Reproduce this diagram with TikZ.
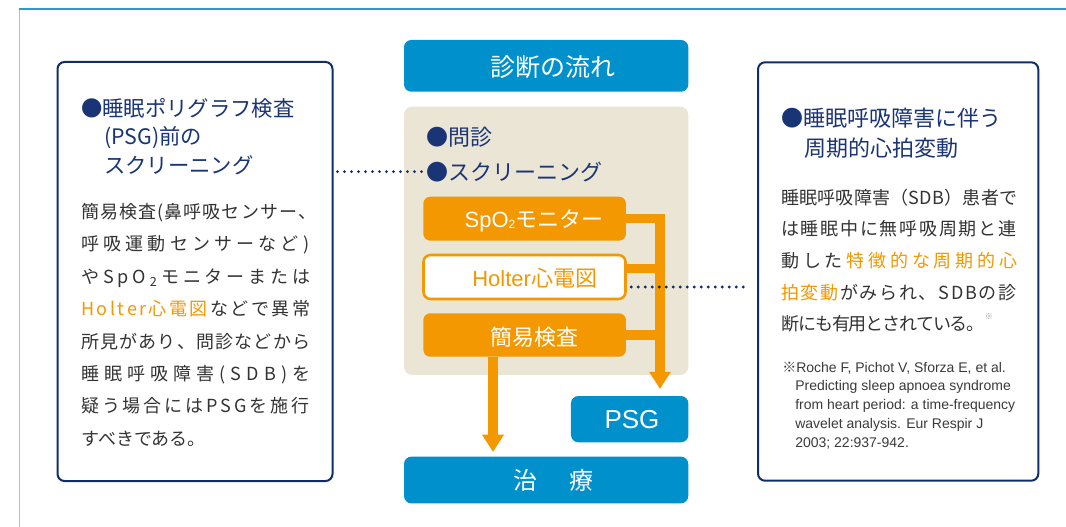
\documentclass[tikz,border=0pt]{standalone}
\usepackage{fontspec}
\setmainfont{Noto Sans CJK JP}
\newfontfamily\lat{Liberation Sans}
\usetikzlibrary{arrows.meta}
\definecolor{navy}{HTML}{0F2D6B}
\definecolor{navyt}{HTML}{1A3575}
\definecolor{cblue}{HTML}{0090CC}
\definecolor{corange}{HTML}{F39800}
\definecolor{beige}{HTML}{EBE5D5}
\definecolor{bodyg}{HTML}{333333}
\definecolor{noteg}{HTML}{3A3A3A}
\definecolor{frametop}{HTML}{2A9AD0}
\definecolor{frameleft}{HTML}{8ACDEB}
\ExplSyntaxOn
\cs_new_protected:Npn \__jl_map:n #1 { \tl_map_inline:nn {#1} { \hfil ##1 } }
\NewDocumentCommand \jl { m m m m }
  { \makebox [#1] [s] { \skip_horizontal:n { 0pt plus -1fil } \__jl_map:n {#2} { \color{corange} \__jl_map:n {#3} } \__jl_map:n {#4} } }
\ExplSyntaxOff
\begin{document}
\begin{tikzpicture}[x=0.75pt,y=-0.75pt,
  sidebox/.style={draw=navy, line width=1.5pt, rounded corners=5.25pt, fill=white, inner sep=0pt},
  bluebox/.style={fill=cblue, rounded corners=5.5pt, inner sep=0pt},
  obox/.style={fill=corange, rounded corners=5.25pt, inner sep=0pt, minimum width=152pt, minimum height=33pt},
  hbox/.style={fill=white, draw=corange, line width=1.9pt, rounded corners=5.25pt, inner sep=0pt, minimum width=151.5pt, minimum height=33pt},
  ttl/.style={font=\fontsize{16pt}{19pt}\selectfont, text=navyt, anchor=base west, inner sep=0pt},
  rttl/.style={font=\fontsize{16.5pt}{19pt}\selectfont, text=navyt, anchor=base west, inner sep=0pt},
  body/.style={font=\fontsize{13.5pt}{16pt}\selectfont, text=bodyg, anchor=base west, inner sep=0pt},
  note/.style={font=\fontsize{10.5pt}{12pt}\selectfont\lat, text=noteg, anchor=base west, inner sep=0pt},
  ctr/.style={font=\fontsize{16.5pt}{19pt}\selectfont, text=navyt, anchor=base west, inner sep=0pt},
  btxt/.style={font=\fontsize{16.5pt}{19pt}\selectfont, anchor=base, inner sep=0pt},
  oline/.style={draw=corange, line width=7.1pt},
  oarrow/.style={oline, -{Triangle[width=16.5pt, length=12.75pt, line width=0pt]}},
  dotl/.style={draw=navy, line width=2.4pt, line cap=round, dash pattern=on 0pt off 5.25pt}
]
\useasboundingbox (0,0) rectangle (1066,527);
% outer frame
\draw[frameleft, line width=1.1pt] (19.5,527) -- (19.5,9.5);
\draw[frametop, line width=1.5pt] (18.8,9.5) -- (1066,9.5);

% side boxes
\node[sidebox, minimum width=206.25pt, minimum height=314.25pt] (lbox) at (195,271.5) {};
\node[sidebox, minimum width=210.2pt, minimum height=313.8pt] (rbox) at (898.15,271.5) {};

% centre column
\node[bluebox, minimum width=213.2pt, minimum height=38.8pt] (title) at (546.15,65.85) {};
\node[btxt, text=white, font=\fontsize{18.75pt}{21pt}\selectfont] (titletxt) at (553,76.2) {診断の流れ};
\node[fill=beige, rounded corners=6pt, inner sep=0pt, minimum width=213.2pt, minimum height=201.2pt] (panel) at (546.15,240.85) {};
\node[ctr] (mon) at (426,145.7) {●問診};
\node[ctr] (scr) at (426,180.1) {●スクリーニング};
\node[obox] (spo2) at (524.65,218.7) {};
\node[hbox] (holter) at (524.5,277) {};
\node[obox, minimum height=32.6pt] (kan) at (524.65,335) {};
\node[bluebox, minimum width=88pt, minimum height=34.7pt] (psg) at (629.65,419.15) {};
\node[bluebox, minimum width=213.2pt, minimum height=35pt] (tr) at (546.15,480) {};

% orange connectors
\coordinate (trunk) at (660,218.7);
\coordinate (drop) at (493,357);
\coordinate (hj) at ([yshift=6.4pt]holter.east);
\draw[oline] (hj) -- (hj -| trunk);
\draw[oline] (kan.east) -- (kan.east -| trunk);
\draw[oarrow, line join=miter, shorten >=5.25pt] (spo2.east) -| (psg.north -| trunk);
\draw[oarrow, shorten >=3.5pt] (kan.south -| drop) -- (tr.north -| drop);

% box texts
\node[btxt, text=white] (spo2t) at (534,227.7) {{\lat SpO\raisebox{-0.05em}{\fontsize{9pt}{9pt}\selectfont 2}}モニター};
\node[btxt, text=corange] (holt) at (534.7,286.7) {{\lat Holter}心電図};
\node[btxt, text=white, font=\fontsize{19.5pt}{21pt}\selectfont\lat] (psgt) at (632,428.8) {PSG};
\node[btxt, text=white] (kant) at (534.7,345.1) {簡易検査};
\node[btxt, text=white, font=\fontsize{18pt}{21pt}\selectfont] (trt) at (553.5,489.1) {治\hspace{1.33em}療};

% dotted links
\draw[dotl, shorten <=3pt, shorten >=3pt] (scr.west -| lbox.east) -- (scr.west);
\coordinate (hd) at ([yshift=-7.5pt]holter.east);
\draw[dotl, shorten <=3.4pt, shorten >=6pt] (hd) -- (hd -| rbox.west);

% left box text
\node[ttl] (lt1) at (81,116.4) {●睡眠ポリグラフ検査};
\node[ttl] (lt2) at (104,144.8) {(PSG)前の};
\node[ttl] (lt3) at (104,173.1) {スクリーニング};
\node[body] (lb1) at (81,218.5) {\jl{176.25pt}{簡易検査(鼻呼吸センサー、}{}{}};
\node[body] (lb2) at (81,250.9) {\jl{171pt}{呼吸運動センサーなど)}{}{}};
\node[body] (lb3) at (81,283.2) {\jl{171.75pt}{やSpO{\textsubscript{2}}モニターまたは}{}{}};
\node[body] (lb4) at (81,315.6) {\jl{171.75pt}{}{Holter心電図}{などで異常}};
\node[body] (lb5) at (81,348) {\jl{171.75pt}{所見があり、問診などから}{}{}};
\node[body] (lb6) at (81,380.3) {\jl{171.75pt}{睡眠呼吸障害(SDB)を}{}{}};
\node[body] (lb7) at (81,412.7) {\jl{171pt}{疑う場合にはPSGを施行}{}{}};
\node[body] (lb8) at (81,445.1) {すべきである。};

% right box text
\node[rttl] (rt1) at (781,126.4) {●睡眠呼吸障害に伴う};
\node[rttl] (rt2) at (804,156.4) {周期的心拍変動};
\node[body] (rb1) at (781,204.5) {\jl{177pt}{睡眠呼吸障害（SDB）患者で}{}{}};
\node[body] (rb2) at (781,236) {\jl{176.25pt}{は睡眠中に無呼吸周期と連}{}{}};
\node[body] (rb3) at (781,267.5) {\jl{177pt}{動した}{特徴的な周期的心}{}};
\node[body] (rb4) at (781,299) {\jl{176.25pt}{}{拍変動}{がみられ、SDBの診}};
\node[body] (rb5) at (781,330.5) {{\addfontfeature{LetterSpace=-6}断にも有用とされている。}\raisebox{0.6em}{\fontsize{6pt}{6pt}\selectfont\color{noteg!55}※}};
\node[note] (n1) at (782,372) {{\rmfamily ※}Roche F, Pichot V, Sforza E, et al.};
\node[note] (n2) at (795,390.8) {Predicting sleep apnoea syndrome};
\node[note] (n3) at (795,409.6) {from heart period: a time-frequency};
\node[note] (n4) at (795,428.4) {wavelet analysis. Eur Respir J};
\node[note] (n5) at (795,447.2) {2003; 22:937-942.};
\end{tikzpicture}
\end{document}
